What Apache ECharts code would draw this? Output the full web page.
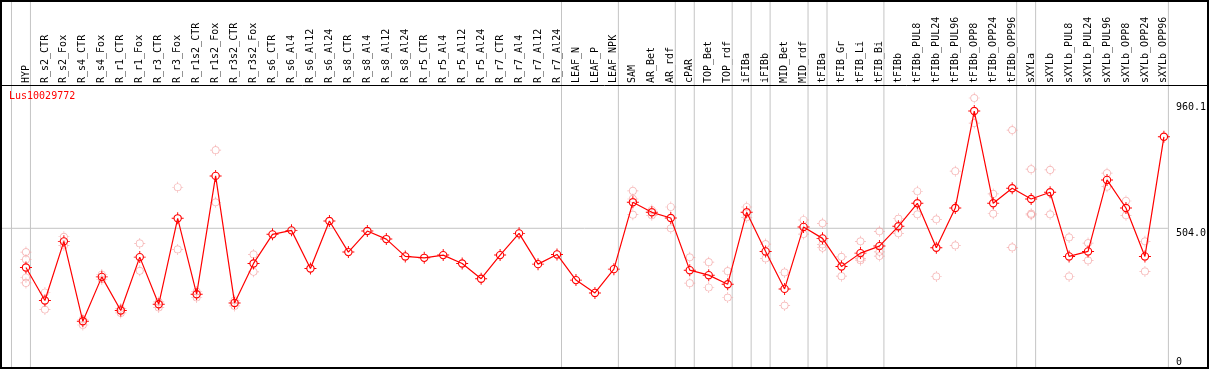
<!DOCTYPE html>
<html>
<head>
<meta charset="utf-8">
<script src="https://cdn.jsdelivr.net/npm/echarts@6/dist/echarts.min.js"></script>
<style>
html,body{margin:0;padding:0;background:#fff;}
#chart{width:1209px;height:370px;}
</style>
</head>
<body>
<div id="chart"></div>
<script>
// ---- data ----
const chartTitle = 'Lus10029772';
const categories = ['HYP','R_s2_CTR','R_s2_Fox','R_s4_CTR','R_s4_Fox','R_r1_CTR','R_r1_Fox','R_r3_CTR','R_r3_Fox','R_r1s2_CTR','R_r1s2_Fox','R_r3s2_CTR','R_r3s2_Fox','R_s6_CTR','R_s6_Al4','R_s6_Al12','R_s6_Al24','R_s8_CTR','R_s8_Al4','R_s8_Al12','R_s8_Al24','R_r5_CTR','R_r5_Al4','R_r5_Al12','R_r5_Al24','R_r7_CTR','R_r7_Al4','R_r7_Al12','R_r7_Al24','LEAF_N','LEAF_P','LEAF_NPK','SAM','AR_Bet','AR_rdf','cPAR','TOP_Bet','TOP_rdf','iFIBa','iFIBb','MID_Bet','MID_rdf','tFIBa','tFIB_Gr','tFIB_Li','tFIB_Bi','tFIBb','tFIBb_PUL8','tFIBb_PUL24','tFIBb_PUL96','tFIBb_OPP8','tFIBb_OPP24','tFIBb_OPP96','sXYLa','sXYLb','sXYLb_PUL8','sXYLb_PUL24','sXYLb_PUL96','sXYLb_OPP8','sXYLb_OPP24','sXYLb_OPP96'];
const groupSizes = [1, 28, 3, 3, 1, 2, 1, 1, 2, 1, 3, 7, 1, 7];
const meanValues = [361.7,241.5,456.5,166.1,327.5,205.1,399.3,228.0,540.2,264.5,694.4,232.8,376.3,482.0,496.5,358.1,530.4,417.5,494.0,464.8,401.8,396.7,406.6,376.3,320.8,406.6,485.6,373.8,409.1,315.7,269.2,355.6,598.5,562.1,541.4,351.9,333.7,300.9,562.1,420.0,283.8,509.0,467.4,365.4,413.8,439.3,511.3,594.9,433.2,577.8,930.0,594.9,649.5,610.6,635.0,401.8,420.0,679.8,577.8,401.8,836.4];
const replicateValues = [
  [417.5,390.9,325.3,305.6],[270.7,208.7],[473.2,441.9],[152.6,173.4],[336.2,318.0],[212.4,196.4],[449.2,349.4],[236.4,216.0],[653.2,427.3],[274.3,252.5],[788.0,598.5],[242.6,221.9],[409.1,345.7],
  [],[],[],[],[],[],[],[],[],[],[],[],[],[],[],[],[],[],[],
  [639.7,610.6,553.4],[570.5,551.2],[581.4,503.8],[398.5,304.6],[381.0,288.9],[348.3,252.5],[581.4,543.9],[446.6,394.5],[343.5,223.3],[534.2,483.0],[522.0,445.5,433.2],[400.4,330.0],[456.5,395.0,388.3],[492.9,418.6,402.9],
  [538.8,485.6],[638.6,554.8],[536.6,329.0],[711.5,441.9],[977.4,886.3],[628.8,557.0],[860.8,434.6],[718.8,557.0,553.0],[716.2,554.8],[471.0,329.0],[450.3,387.2],[704.2,655.4],[603.3,551.2],[456.5,347.2],[]
];
const yTickValues = [0, 504.0, 960.1];
const refLineValue = 504.0;

// ---- layout / style ----
const FONT = '"DejaVu Sans Mono", "Liberation Mono", monospace';
const STEP = 19;               // px per category
const SEP_OFFSET = 4.5 / STEP; // separator sits just right of a group's last point
const xMin = -25 / STEP, xMax = (categories.length - 1) + 4 / STEP;
const yMax = 367 / 0.2752;

const ringMain = 'path://M3,10A7,7,0,1,1,17,10A7,7,0,1,1,3,10Z M4.9,10A5.1,5.1,0,1,0,15.1,10A5.1,5.1,0,1,0,4.9,10Z M9.2,0H10.8V3.1H9.2Z M9.2,16.9H10.8V20H9.2Z M0,9.2H3.1V10.8H0Z M16.9,9.2H20V10.8H16.9Z';
const ringPale = 'path://M3,10A7,7,0,1,1,17,10A7,7,0,1,1,3,10Z M4.3,10A5.7,5.7,0,1,0,15.7,10A5.7,5.7,0,1,0,4.3,10Z M9.4,0H10.6V3.1H9.4Z M9.4,16.9H10.6V20H9.4Z M0,9.4H3.1V10.6H0Z M16.9,9.4H20V10.6H16.9Z';

const separators = [-1 + SEP_OFFSET];
let acc = -1;
groupSizes.forEach(s => { acc += s; separators.push(acc + SEP_OFFSET); });

const lineData = meanValues.map((v, i) => [i, v]);
const repData = [];
replicateValues.forEach((arr, i) => arr.forEach(v => repData.push([i, v])));

// guide lines: vertical separators (kind 0) and the horizontal reference line (kind 1)
const guideData = separators.map(v => [v, 0, 0]).concat([[0, refLineValue, 1]]);

const chart = echarts.init(document.getElementById('chart'), null, {renderer: 'canvas'});
chart.setOption({
  animation: false,
  backgroundColor: '#ffffff',
  title: {
    text: chartTitle, left: 9, top: 91, padding: 0,
    textStyle: {color: '#ff0000', fontSize: 10, fontFamily: FONT, fontWeight: 'normal'}
  },
  grid: {left: 1, right: 39, top: 0, bottom: 3, containLabel: false},
  xAxis: {
    type: 'value', min: xMin, max: xMax, position: 'top', offset: -85,
    axisLine: {show: false}, axisTick: {show: false}, splitLine: {show: false},
    axisLabel: {
      customValues: categories.map((c, i) => i),
      formatter: v => categories[Math.round(v)],
      rotate: 90, margin: 2, fontSize: 10, fontFamily: FONT, color: '#000'
    }
  },
  yAxis: [{
    type: 'value', min: 0, max: yMax, position: 'right',
    axisLine: {show: false}, axisTick: {show: false}, splitLine: {show: false},
    axisLabel: {
      customValues: yTickValues.filter(v => v !== 0),
      formatter: v => Number(v).toFixed(1),
      verticalAlign: 'top', align: 'left', margin: 8, fontSize: 10, fontFamily: FONT, color: '#000'
    }
  }, {
    type: 'value', min: 0, max: yMax, position: 'right',
    axisLine: {show: false}, axisTick: {show: false}, splitLine: {show: false},
    axisLabel: {
      customValues: yTickValues.filter(v => v === 0),
      formatter: v => String(v),
      verticalAlign: 'bottom', align: 'left', margin: 8, fontSize: 10, fontFamily: FONT, color: '#000'
    }
  }],
  series: [{
    type: 'custom', data: guideData, silent: true, z: 1, clip: false,
    renderItem: (params, api) => {
      const kind = api.value(2);
      let p1, p2;
      if (kind === 0) {
        p1 = api.coord([api.value(0), 0]);
        p2 = api.coord([api.value(0), yMax]);
      } else {
        p1 = api.coord([xMin, api.value(1)]);
        p2 = api.coord([xMax, api.value(1)]);
      }
      return {
        type: 'line',
        shape: {x1: p1[0], y1: p1[1], x2: p2[0], y2: p2[1]},
        style: {stroke: '#c4c4c4', lineWidth: 1}
      };
    }
  }, {
    type: 'scatter', data: repData, symbol: ringPale, symbolSize: 11,
    itemStyle: {color: '#f29c9c'}, z: 2
  }, {
    type: 'line', data: lineData, symbol: ringMain, symbolSize: 12, showSymbol: true,
    itemStyle: {color: '#ff0000'}, lineStyle: {color: '#ff0000', width: 1.2}, z: 3
  }],
  graphic: [{
    type: 'rect', shape: {x: 1, y: 1, width: 1207, height: 367},
    style: {fill: 'none', stroke: '#000', lineWidth: 2}, z: 100
  }, {
    type: 'line', shape: {x1: 0, y1: 85.5, x2: 1209, y2: 85.5},
    style: {stroke: '#000', lineWidth: 1}, z: 100
  }]
});
</script>
</body>
</html>
